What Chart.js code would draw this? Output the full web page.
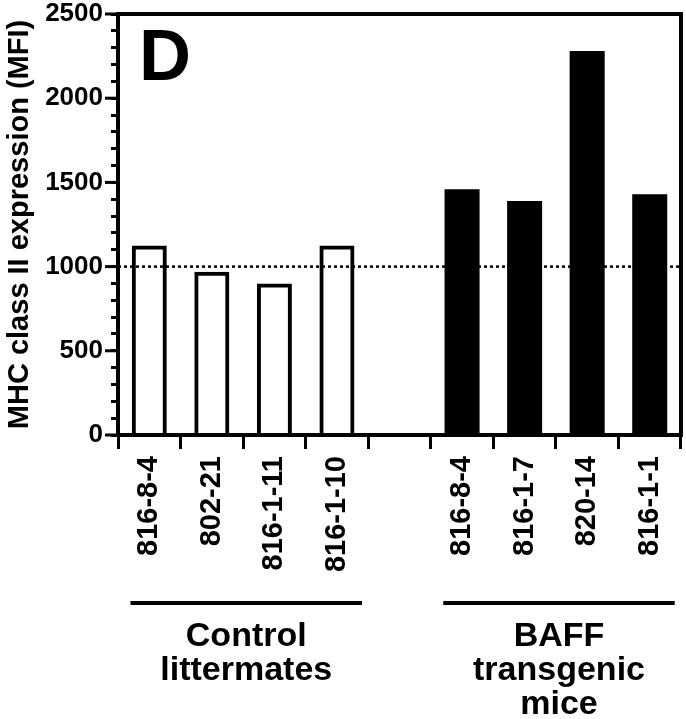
<!DOCTYPE html>
<html>
<head>
<meta charset="utf-8">
<script src="https://cdn.jsdelivr.net/npm/chart.js@4.4.0/dist/chart.umd.min.js"></script>
<style>
  html, body { margin: 0; padding: 0; background: #fff; }
  #wrap { width: 686px; height: 719px; position: relative; }
</style>
</head>
<body>
<div id="wrap"><canvas id="chart" width="686" height="719"></canvas></div>
<script>
// mouse labels, one empty slot between the two groups
const mice = ['816-8-4', '802-21', '816-1-11', '816-1-10', '', '816-8-4', '816-1-7', '820-14', '816-1-1']
const mfi = [1125, 970, 900, 1125, null, 1460, 1390, 2280, 1430]
const isBaff = [false, false, false, false, false, true, true, true, true]
const groups = [
    {text: ['Control', 'littermates'], from: 0, to: 3},
    {text: ['BAFF', 'transgenic', 'mice'], from: 5, to: 8}
]
const refLine = 1000
const panel = 'D'

const FONT = '"Liberation Sans", Arial, Helvetica, sans-serif'

const extras = {
    id: 'extras',
    beforeDatasetsDraw(chart) {
        const {ctx, chartArea, scales} = chart
        const y = scales.y.getPixelForValue(refLine)
        ctx.save()
        ctx.strokeStyle = '#000'
        ctx.lineWidth = 2.5
        ctx.setLineDash([3, 3])
        ctx.beginPath()
        ctx.moveTo(chartArea.left, y)
        ctx.lineTo(chartArea.right, y)
        ctx.stroke()
        ctx.restore()
    },
    afterDraw(chart) {
        const {ctx, chartArea, scales} = chart
        ctx.save()
        ctx.strokeStyle = '#000'
        ctx.fillStyle = '#000'
        // frame top and right
        ctx.lineWidth = 4
        ctx.beginPath()
        ctx.moveTo(chartArea.left - 2, chartArea.top)
        ctx.lineTo(chartArea.right, chartArea.top)
        ctx.lineTo(chartArea.right, chartArea.bottom + 2)
        ctx.stroke()
        // long major ticks on y
        ctx.lineWidth = 3
        for (let v = 0; v <= 2500; v += 500) {
            const py = scales.y.getPixelForValue(v)
            ctx.beginPath()
            ctx.moveTo(chartArea.left - 13, py)
            ctx.lineTo(chartArea.left, py)
            ctx.stroke()
        }
        // panel letter
        ctx.font = 'bold 72px ' + FONT
        ctx.textAlign = 'left'
        ctx.textBaseline = 'alphabetic'
        ctx.fillText(panel, chartArea.left + 21, chartArea.top + 66)
        // group bars and names
        const cat = scales.x.getPixelForValue(1) - scales.x.getPixelForValue(0)
        groups.forEach(g => {
            const x0 = scales.x.getPixelForValue(g.from) - cat * 0.3
            const x1 = scales.x.getPixelForValue(g.to) + cat * 0.4
            ctx.lineWidth = 4
            ctx.beginPath()
            ctx.moveTo(x0, 603)
            ctx.lineTo(x1, 603)
            ctx.stroke()
            ctx.font = 'bold 34px ' + FONT
            ctx.textAlign = 'center'
            g.text.forEach((t, i) => {
                ctx.fillText(t, (x0 + x1) / 2, 646 + i * 34)
            })
        })
        ctx.restore()
    }
}

new Chart(document.getElementById('chart'), {
    type: 'bar',
    data: {
        labels: mice,
        datasets: [{
            data: mfi,
            backgroundColor: isBaff.map(b => b ? '#000' : 'rgba(0,0,0,0)'),
            borderColor: '#000',
            borderWidth: isBaff.map(b => b ? 0 : 4),
            barPercentage: 0.56,
            categoryPercentage: 1
        }]
    },
    options: {
        responsive: false,
        animation: false,
        layout: {padding: {top: 14, right: 5, left: 0, bottom: 0}},
        plugins: {legend: {display: false}, tooltip: {enabled: false}},
        scales: {
            x: {
                offset: true,
                grid: {offset: true, drawOnChartArea: false, tickLength: 14, tickWidth: 3, tickColor: '#000'},
                border: {color: '#000', width: 4},
                ticks: {
                    autoSkip: false, maxRotation: 90, minRotation: 90, padding: 7,
                    color: '#000', font: {family: FONT, size: 29, weight: 'bold'}
                },
                afterFit(scale) {
                    scale.height = 284
                    scale.paddingLeft = 0
                    scale.paddingRight = 0
                }
            },
            y: {
                min: 0,
                max: 2500,
                grid: {drawOnChartArea: false, tickLength: 7, tickWidth: 3, tickColor: '#000'},
                border: {color: '#000', width: 4},
                ticks: {
                    stepSize: 100, autoSkip: false, padding: 8, color: '#000',
                    font: {family: FONT, size: 26, weight: 'bold'},
                    callback: v => v % 500 === 0 ? v : ''
                },
                title: {
                    display: true, text: 'MHC class II expression (MFI)', color: '#000',
                    font: {family: FONT, size: 29, weight: 'bold'}, padding: {top: 3, bottom: 0}
                },
                afterFit(scale) {
                    scale.width = 118
                    scale.paddingTop = 0
                    scale.paddingBottom = 0
                }
            }
        }
    },
    plugins: [extras]
})
</script>
</body>
</html>
